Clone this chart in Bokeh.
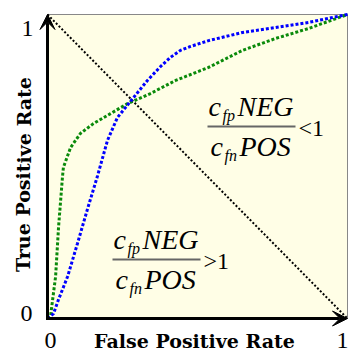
from bokeh.plotting import figure
from bokeh.models import Range1d, Label, Arrow, VeeHead
from bokeh.embed import file_html
from bokeh.resources import INLINE

# ---- data ----
fpr_blue = [0.0, 0.02, 0.037, 0.067, 0.10, 0.133, 0.167, 0.20, 0.233, 0.287, 0.333,
            0.377, 0.41, 0.443, 0.477, 0.537, 0.65, 0.76, 0.87, 1.0]
tpr_blue = [0.0, 0.016, 0.063, 0.138, 0.247, 0.359, 0.47, 0.586, 0.661, 0.727, 0.783,
            0.829, 0.859, 0.882, 0.895, 0.914, 0.941, 0.957, 0.974, 1.0]
fpr_green = [0.0, 0.01, 0.027, 0.037, 0.05, 0.053, 0.077, 0.11, 0.153, 0.21, 0.267,
             0.343, 0.427, 0.537, 0.65, 0.76, 0.87, 1.0]
tpr_green = [0.0, 0.007, 0.138, 0.303, 0.467, 0.497, 0.5625, 0.609, 0.641, 0.674, 0.707,
             0.74, 0.783, 0.826, 0.882, 0.921, 0.954, 1.0]
diag_x = [0.0, 1.0]
diag_y = [1.0, 0.0]
tick_labels = ["0", "1"]
x_label = "False Positive Rate"
y_label = "True Positive Rate"

# ---- layout: the frame covers the whole canvas; data 0..1 maps to the plot box ----
W, H = 350, 352
L, R, T, B = 47, 3, 14, 34
FW, FH = W - L - R, H - T - B

def dx(px):
    return (px - L) / FW

def dy(py):
    return (T + FH - py) / FH

p = figure(width=W, height=H,
           x_range=Range1d(dx(0), dx(W)), y_range=Range1d(dy(H), dy(0)),
           output_backend="svg", toolbar_location=None,
           min_border=0, x_axis_type=None, y_axis_type=None)
p.background_fill_color = "white"
p.border_fill_color = "white"
p.outline_line_color = None

SERIF = "Liberation Serif"
TITLE_FONT = "DejaVu Serif"

# plot box
p.quad(left=[0], right=[1], bottom=[0], top=[1], fill_color="#FFFEE6",
       line_color="#888888", line_width=1)

# diagonal
p.line(diag_x, diag_y, line_color="black", line_width=2, line_dash="2 2")
# curves
p.line(fpr_green, tpr_green, line_color="#0A8A0A", line_width=3, line_dash="3 2")
p.line(fpr_blue, tpr_blue, line_color="#0000FF", line_width=3, line_dash="3 2")

# axes with arrows
p.add_layout(Arrow(x_start=0, y_start=-1.5 / FH, x_end=0, y_end=1, line_width=3,
                   line_color="black",
                   end=VeeHead(size=15, fill_color="black", line_color="black")))
p.add_layout(Arrow(x_start=-1.5 / FW, y_start=0, x_end=1, y_end=0, line_width=3,
                   line_color="black",
                   end=VeeHead(size=15, fill_color="black", line_color="black")))

# tick labels
for txt, x, y in [(tick_labels[0], 26, 313), (tick_labels[1], 27, 28),
                  (tick_labels[0], 50, 340), (tick_labels[1], 342, 340)]:
    p.add_layout(Label(x=dx(x), y=dy(y), text=txt, text_font=SERIF, text_font_size="24px",
                       text_align="center", text_baseline="middle", text_color="black"))

# axis titles
p.add_layout(Label(x=dx(194), y=dy(340), text=x_label, text_font=TITLE_FONT,
                   text_font_size="19px", text_font_style="bold", text_color="black",
                   text_align="center", text_baseline="middle"))
p.add_layout(Label(x=dx(23), y=dy(174), text=y_label, text_font=TITLE_FONT,
                   text_font_size="19px", text_font_style="bold", angle=1.5707963,
                   text_color="black", text_align="center", text_baseline="middle"))

def fraction(lx, ly, width, rel):
    big, small = "28px", "16px"
    items = [("c", lx + 1, ly - 20, big), ("fp", lx + 15, ly - 11, small),
             ("NEG", lx + 30, ly - 20, big),
             ("c", lx + 3, ly + 20, big), ("fn", lx + 17, ly + 29, small),
             ("POS", lx + 32, ly + 20, big)]
    for t, x, y, s in items:
        p.add_layout(Label(x=dx(x), y=dy(y), text=t, text_font=SERIF,
                           text_font_style="italic", text_font_size=s, text_color="black",
                           text_baseline="middle", text_align="left"))
    p.segment(x0=[dx(lx)], y0=[dy(ly)], x1=[dx(lx + width)], y1=[dy(ly)],
              line_color="#666666", line_width=2)
    p.add_layout(Label(x=dx(lx + width + 3), y=dy(ly + 1), text=rel, text_font=SERIF,
                       text_font_size="24px", text_color="black",
                       text_baseline="middle", text_align="left"))

fraction(207, 126, 88, "<1")
fraction(112, 259, 88, ">1")

open("out.html", "w").write(file_html(p, INLINE))
